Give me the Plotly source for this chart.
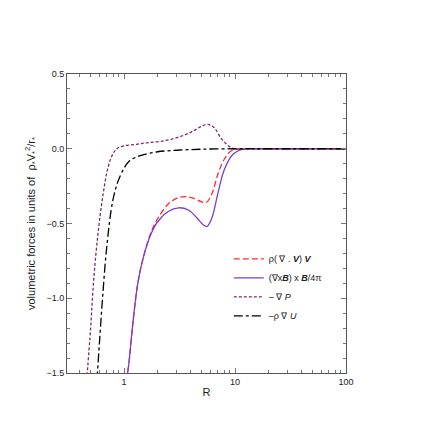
import plotly.graph_objects as go

R_adv = [1.05, 1.1, 1.2, 1.33, 1.5, 1.75, 2.0, 2.5, 3.0, 3.5, 4.2, 5.0, 5.5, 6.2, 7.0, 8.0, 9.2, 10.5, 12, 15, 20, 30, 50, 100]
F_adv = [-1.55, -1.45, -1.17, -0.9, -0.72, -0.56, -0.47, -0.37, -0.33, -0.32, -0.33, -0.355, -0.36, -0.3, -0.17, -0.07, -0.015, -0.003, 0, 0, 0, 0, 0, 0]

R_mag = [1.05, 1.1, 1.2, 1.33, 1.5, 1.75, 2.0, 2.5, 3.1, 3.8, 4.5, 5.2, 5.6, 6.2, 7.0, 8.0, 9.5, 11, 13, 15, 20, 30, 50, 100]
F_mag = [-1.55, -1.45, -1.17, -0.9, -0.72, -0.57, -0.49, -0.42, -0.395, -0.41, -0.46, -0.51, -0.52, -0.46, -0.3, -0.14, -0.04, -0.01, 0, 0, 0, 0, 0, 0]

R_p = [0.46, 0.5, 0.53, 0.58, 0.64, 0.72, 0.8, 0.88, 1.0, 1.3, 1.6, 2.15, 3.0, 4.0, 5.0, 5.7, 6.5, 7.5, 8.7, 9.8, 12, 15, 20, 50, 100]
F_p = [-1.55, -1.2, -0.9, -0.58, -0.33, -0.12, -0.03, 0.005, 0.02, 0.03, 0.04, 0.05, 0.075, 0.11, 0.15, 0.163, 0.14, 0.07, 0.02, 0.0, -0.002, 0, 0, 0, 0]

R_g = [0.57, 0.6, 0.64, 0.7, 0.79, 0.88, 1.0, 1.09, 1.25, 1.5, 2.0, 3.0, 5.0, 10, 20, 100]
F_g = [-1.55, -1.3, -1.0, -0.65, -0.35, -0.22, -0.13, -0.09, -0.06, -0.04, -0.02, -0.01, -0.003, 0, 0, 0]

x_minor = [0.4, 0.5, 0.6, 0.7, 0.8, 0.9, 2, 3, 4, 5, 6, 7, 8, 9, 20, 30, 40, 50, 60, 70, 80, 90]

names = ["ρ( ∇ . <b><i>V</i></b>) <b><i>V</i></b>",
         "(∇x<b><i>B</i></b>) x <b><i>B</i></b>/4π",
         "– ∇ <i>P</i>",
         "–ρ ∇ <i>U</i>"]

fig = go.Figure()
fig.add_trace(go.Scatter(x=R_adv, y=F_adv, mode="lines", name=names[0],
                         line=dict(color="#ff2a2a", width=1.3, dash="6px,3px", shape="spline")))
fig.add_trace(go.Scatter(x=R_mag, y=F_mag, mode="lines", name=names[1],
                         line=dict(color="#7a3fcc", width=1.3, shape="spline")))
fig.add_trace(go.Scatter(x=R_p, y=F_p, mode="lines", name=names[2],
                         line=dict(color="#7a2a6e", width=1.3, dash="3px,2px", shape="spline")))
fig.add_trace(go.Scatter(x=R_g, y=F_g, mode="lines", name=names[3],
                         line=dict(color="black", width=1.3, dash="dashdot", shape="spline")))

axis = dict(showline=True, linecolor="#555", mirror="ticks", ticks="inside",
            tickcolor="#777", showgrid=False, zeroline=False)
fig.update_xaxes(type="log", range=[-0.514, 2], tickvals=[1, 10, 100], ticktext=["1", "10", "100"],
                 title=dict(text="R", standoff=2),
                 minor=dict(ticks="inside", tickvals=x_minor, ticklen=3, tickcolor="#777"), **axis)
fig.update_yaxes(range=[-1.5, 0.5], tickvals=[-1.5, -1.0, -0.5, 0.0, 0.5],
                 ticktext=["−1.5", "−1.0", "−0.5", "0.0", "0.5"],
                 title=dict(text="volumetric forces in units of  ρ<sub>*</sub>V<sub>*</sub><sup>2</sup>/r<sub>*</sub>", standoff=8),
                 minor=dict(ticks="inside", dtick=0.1, ticklen=3, tickcolor="#777"), **axis)
fig.update_layout(width=436, height=436, plot_bgcolor="white", paper_bgcolor="white",
                  margin=dict(l=59, r=98, t=66, b=71),
                  font=dict(family="Liberation Sans, Arial", size=9, color="#222"),
                  legend=dict(x=0.58, y=0.43, xanchor="left", yanchor="top", bgcolor="rgba(0,0,0,0)",
                              itemwidth=30, tracegroupgap=4, font=dict(size=9)))
fig.write_html("out.html")
